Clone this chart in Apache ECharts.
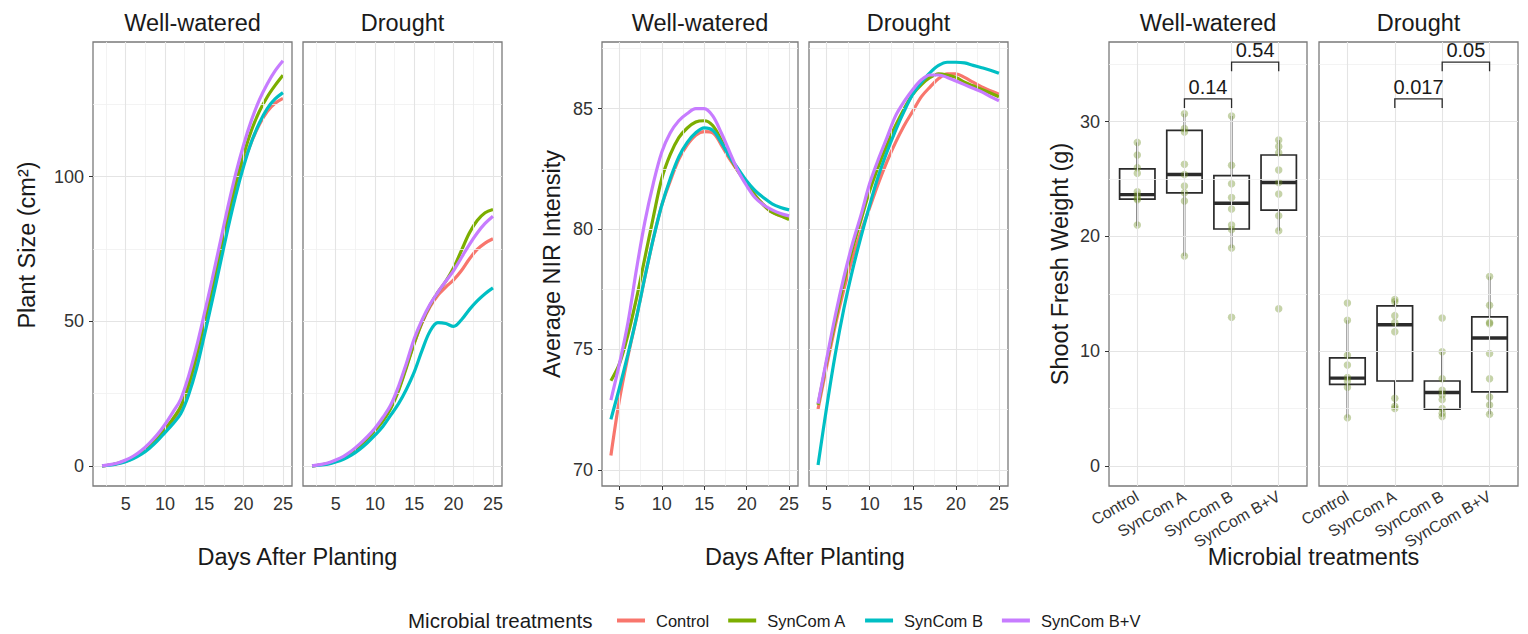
<!DOCTYPE html>
<html><head><meta charset="utf-8">
<script src="https://cdn.jsdelivr.net/npm/echarts@6/dist/echarts.min.js"></script>
<style>html,body{margin:0;padding:0;background:#fff;}#c{width:1528px;height:634px;}</style>
</head><body><div id="c"></div>
<script>
// ---------------- DATA ----------------
const treatments = ['Control', 'SynCom A', 'SynCom B', 'SynCom B+V'];
const facets = ['Well-watered', 'Drought'];

const sizeDays = [2,3,4,5,6,7,8,9,10,11,12,13,14,15,16,17,18,19,20,21,22,23,24,25];
const sizeWW_Control = [0,0.3,0.8,1.6,2.8,4.4,6.5,9,12,15.5,19.5,26.5,36,47,58.5,71,83.5,95,104.5,112,118,122.5,125.3,127];
const sizeWW_SynComA = [0,0.3,0.9,1.8,3.1,4.8,7,9.6,12.7,16.2,20.5,28,38,49.5,61,73.5,86,97.5,107.5,116,122.5,127.5,131.5,135];
const sizeWW_SynComB = [0,0.2,0.7,1.4,2.5,4,6,8.5,11.5,14.5,18,24.5,33.5,45,57,69.5,82,93.5,103.5,112,118.5,123.5,126.8,129];
const sizeWW_SynComBV = [0,0.4,1,2,3.4,5.3,7.8,10.7,14.3,18.5,23,31,41,52.5,64.5,77,89.5,101,111,119.5,126.5,132,136.5,140];
const sizeD_Control = [0,0.3,0.8,1.7,2.9,4.6,6.8,9.3,12.3,15.8,20.2,26.5,34.5,42.5,49.5,55,59,61.8,64.3,67.5,71.5,74.8,77,78.5];
const sizeD_SynComA = [0,0.3,0.8,1.7,2.9,4.6,6.8,9.3,12.2,15.5,19.8,26,34,42.5,49.8,55.5,60,63.8,68.5,74.5,80.5,84.8,87.5,88.6];
const sizeD_SynComB = [0,0.2,0.6,1.3,2.3,3.7,5.6,7.9,10.6,13.6,17.5,21.5,26.5,32.5,40,46.5,49.5,49.2,48.2,50.5,54,57,59.5,61.5];
const sizeD_SynComBV = [0,0.4,1,2,3.3,5.1,7.4,10,13,16.7,21,27.5,35.5,44,50.5,55.8,60,63.8,67.5,72,76.5,80.5,83.8,86.3];

const nirDays = [4,5,6,7,8,9,10,11,12,13,14,15,16,17,18,19,20,21,22,23,24,25];
const nirWW_Control = [70.6,72.9,74.7,76.3,78.0,79.6,81.0,82.0,82.9,83.5,83.9,84.05,84.0,83.5,82.9,82.4,81.9,81.4,81.0,80.7,80.55,80.45];
const nirWW_SynComA = [73.7,74.4,75.6,77.1,78.8,80.5,82.1,83.1,83.8,84.2,84.45,84.5,84.3,83.7,83.0,82.4,81.9,81.4,81.0,80.7,80.55,80.4];
const nirWW_SynComB = [72.1,73.4,74.8,76.3,78.0,79.6,81.0,82.1,83.0,83.6,84.0,84.2,84.1,83.6,83.0,82.5,82.0,81.6,81.3,81.05,80.9,80.8];
const nirWW_SynComBV = [72.9,74.4,76.1,78.3,80.3,81.9,83.2,84.0,84.5,84.8,85.0,85.0,84.7,84.0,83.2,82.4,81.8,81.3,81.0,80.8,80.65,80.55];
const nirD_Control = [72.53,74.3,76.0,77.5,78.8,79.9,80.9,81.9,82.8,83.6,84.3,84.9,85.5,85.9,86.25,86.45,86.45,86.3,86.1,85.9,85.75,85.6];
const nirD_SynComA = [72.7,74.5,76.2,77.8,79.2,80.4,81.6,82.6,83.5,84.3,85.0,85.6,86.0,86.3,86.45,86.4,86.3,86.1,85.95,85.8,85.65,85.5];
const nirD_SynComB = [70.2,72.6,74.8,76.7,78.3,79.7,81.0,82.2,83.2,84.1,84.9,85.6,86.1,86.5,86.8,86.93,86.93,86.9,86.8,86.7,86.6,86.47];
const nirD_SynComBV = [72.75,74.6,76.4,78.0,79.4,80.6,81.9,82.9,83.8,84.7,85.3,85.8,86.2,86.4,86.4,86.3,86.15,86.0,85.85,85.7,85.5,85.33];

// box stats: [lower whisker, Q1, median, Q3, upper whisker]
const boxWW_Control = [20.9, 23.25, 23.65, 25.9, 28.2];
const boxWW_SynComA = [18.3, 23.8, 25.4, 29.25, 30.7];
const boxWW_SynComB = [19.0, 20.65, 22.9, 25.3, 30.5];
const boxWW_SynComBV = [20.5, 22.3, 24.7, 27.1, 28.4];
const boxD_Control = [4.2, 7.1, 7.65, 9.42, 12.7];
const boxD_SynComA = [5.0, 7.4, 12.3, 13.95, 14.4];
const boxD_SynComB = [4.3, 4.95, 6.4, 7.4, 9.95];
const boxD_SynComBV = [4.5, 6.45, 11.15, 13.0, 16.5];

const ptsWW_Control = [28.2, 27.1, 26.0, 25.5, 23.9, 23.6, 23.3, 23.2, 21.0];
const ptsWW_SynComA = [30.7, 29.4, 29.1, 26.3, 25.4, 24.4, 23.8, 23.1, 18.3];
const ptsWW_SynComB = [30.5, 26.2, 24.6, 23.4, 22.4, 21.0, 20.6, 19.0, 12.95];
const ptsWW_SynComBV = [28.4, 27.85, 27.3, 25.8, 24.7, 23.7, 21.8, 20.5, 13.7];
const ptsD_Control = [14.2, 12.7, 9.65, 8.8, 7.7, 7.4, 6.85, 4.2];
const ptsD_SynComA = [14.5, 14.3, 13.1, 12.5, 11.7, 5.9, 5.2, 5.0];
const ptsD_SynComB = [12.9, 9.95, 7.6, 6.6, 6.2, 5.8, 5.0, 4.6, 4.3];
const ptsD_SynComBV = [16.5, 14.0, 12.5, 12.4, 9.8, 7.6, 6.0, 5.3, 4.5];

const bracketFrom = [2, 3];
const bracketTo = [3, 4];
const bracketY = [32.0, 35.2];
const bracketLabelsWW = ['0.14', '0.54'];
const bracketLabelsD = ['0.017', '0.05'];

const dayTicks = [5, 10, 15, 20, 25];
const dayMinor = [2.5, 7.5, 12.5, 17.5, 22.5];
const sizeTicks = [0, 50, 100];
const sizeMinor = [25, 75, 125];
const nirTicks = [70, 75, 80, 85];
const nirMinor = [72.5, 77.5, 82.5, 87.5];
const weightTicks = [0, 10, 20, 30];
const weightMinor = [5, 15, 25, 35];
const catTicks = [1, 2, 3, 4];

// ---------------- STYLE / LAYOUT ----------------
const colors = ['#F8766D', '#7CAE00', '#00BFC4', '#C77CFF'];
const FONT = 'Liberation Sans, Arial, Helvetica, sans-serif';
const TXT = '#1a1a1a';
const TICK = '#333333';
const MAJ = '#e4e4e4';
const MIN = '#f0f0f0';

const grids = [
  {left: 93, top: 42, width: 199, height: 444},
  {left: 303, top: 42, width: 199, height: 444},
  {left: 602, top: 42, width: 196, height: 444},
  {left: 809, top: 42, width: 199, height: 444},
  {left: 1109, top: 42, width: 198, height: 444},
  {left: 1319, top: 42, width: 199, height: 444}
].map(g => Object.assign({show: true, backgroundColor: '#fff', borderColor: '#7a7a7a', borderWidth: 1.3, containLabel: false}, g));

function xAxis(i, min, max, ticks, extra) {
  return Object.assign({
    type: 'value', gridIndex: i, min: min, max: max,
    axisLine: {show: false}, splitLine: {show: false},
    axisTick: {show: true, customValues: ticks, length: 4, lineStyle: {color: TICK, width: 1}},
    axisLabel: {customValues: ticks, margin: 9, color: TICK, fontSize: 18, fontFamily: FONT}
  }, extra || {});
}
function yAxis(i, min, max, ticks, show) {
  return {
    type: 'value', gridIndex: i, min: min, max: max,
    axisLine: {show: false}, splitLine: {show: false},
    axisTick: {show: show, customValues: ticks, length: 4, lineStyle: {color: TICK, width: 1}},
    axisLabel: {show: show, customValues: ticks, margin: 9, color: TICK, fontSize: 18, fontFamily: FONT}
  };
}
const catLabel = {customValues: catTicks, rotate: 30, margin: 9, color: TICK, fontSize: 16, fontFamily: FONT, formatter: v => treatments[Math.round(v) - 1]};

const xAxes = [
  xAxis(0, 0.85, 26.15, dayTicks), xAxis(1, 0.85, 26.15, dayTicks),
  xAxis(2, 2.95, 26.05, dayTicks), xAxis(3, 2.95, 26.05, dayTicks),
  xAxis(4, 0.4, 4.6, catTicks, {axisLabel: catLabel}),
  xAxis(5, 0.4, 4.6, catTicks, {axisLabel: catLabel})
];
const yAxes = [
  yAxis(0, -6.97, 146.5, sizeTicks, true), yAxis(1, -6.97, 146.5, sizeTicks, false),
  yAxis(2, 69.33, 87.77, nirTicks, true), yAxis(3, 69.33, 87.77, nirTicks, false),
  yAxis(4, -1.75, 36.95, weightTicks, true), yAxis(5, -1.75, 36.95, weightTicks, false)
];

function gridLines(i, xMaj, xMin, yMaj, yMin) {
  const d = [];
  xMin.forEach(v => d.push({xAxis: v, lineStyle: {color: MIN, width: 0.8, type: 'solid'}}));
  yMin.forEach(v => d.push({yAxis: v, lineStyle: {color: MIN, width: 0.8, type: 'solid'}}));
  xMaj.forEach(v => d.push({xAxis: v, lineStyle: {color: MAJ, width: 1.1, type: 'solid'}}));
  yMaj.forEach(v => d.push({yAxis: v, lineStyle: {color: MAJ, width: 1.1, type: 'solid'}}));
  return {
    type: 'line', xAxisIndex: i, yAxisIndex: i, data: [], z: 1, silent: true,
    markLine: {silent: true, symbol: ['none', 'none'], animation: false, label: {show: false}, emphasis: {disabled: true}, data: d}
  };
}

const series = [];
series.push(gridLines(0, dayTicks, dayMinor, sizeTicks, sizeMinor));
series.push(gridLines(1, dayTicks, dayMinor, sizeTicks, sizeMinor));
series.push(gridLines(2, dayTicks, dayMinor, nirTicks, nirMinor));
series.push(gridLines(3, dayTicks, dayMinor, nirTicks, nirMinor));
series.push(gridLines(4, catTicks, [], weightTicks, weightMinor));
series.push(gridLines(5, catTicks, [], weightTicks, weightMinor));

function curve(i, name, k, days, vals) {
  return {
    type: 'line', name: name, xAxisIndex: i, yAxisIndex: i, z: 3 + k,
    data: days.map((d, j) => [d, vals[j]]), smooth: 0.35, showSymbol: false, symbol: 'none',
    lineStyle: {color: colors[k], width: 3.2}, itemStyle: {color: colors[k]}, emphasis: {disabled: true}
  };
}
const sizeWW = [sizeWW_Control, sizeWW_SynComA, sizeWW_SynComB, sizeWW_SynComBV];
const sizeD = [sizeD_Control, sizeD_SynComA, sizeD_SynComB, sizeD_SynComBV];
const nirWW = [nirWW_Control, nirWW_SynComA, nirWW_SynComB, nirWW_SynComBV];
const nirD = [nirD_Control, nirD_SynComA, nirD_SynComB, nirD_SynComBV];
treatments.forEach((t, k) => {
  series.push(curve(0, t, k, sizeDays, sizeWW[k]));
  series.push(curve(1, t, k, sizeDays, sizeD[k]));
  series.push(curve(2, t, k, nirDays, nirWW[k]));
  series.push(curve(3, t, k, nirDays, nirD[k]));
});

function renderBox(params, api) {
  const x = api.value(0);
  const lo = api.coord([x, api.value(1)]);
  const q1 = api.coord([x, api.value(2)]);
  const md = api.coord([x, api.value(3)]);
  const q3 = api.coord([x, api.value(4)]);
  const hi = api.coord([x, api.value(5)]);
  const half = api.size([0.375, 0])[0];
  const cx = lo[0];
  const st = {stroke: '#2b2b2b', lineWidth: 1.7};
  return {type: 'group', children: [
    {type: 'line', shape: {x1: cx, y1: hi[1], x2: cx, y2: q3[1]}, style: st},
    {type: 'line', shape: {x1: cx, y1: q1[1], x2: cx, y2: lo[1]}, style: st},
    {type: 'rect', shape: {x: cx - half, y: q3[1], width: 2 * half, height: q1[1] - q3[1]}, style: {fill: '#fff', stroke: '#2b2b2b', lineWidth: 1.7}},
    {type: 'line', shape: {x1: cx - half, y1: md[1], x2: cx + half, y2: md[1]}, style: {stroke: '#2b2b2b', lineWidth: 3.4}}
  ]};
}
const boxWW = [boxWW_Control, boxWW_SynComA, boxWW_SynComB, boxWW_SynComBV];
const boxD = [boxD_Control, boxD_SynComA, boxD_SynComB, boxD_SynComBV];
const ptsWW = [ptsWW_Control, ptsWW_SynComA, ptsWW_SynComB, ptsWW_SynComBV];
const ptsD = [ptsD_Control, ptsD_SynComA, ptsD_SynComB, ptsD_SynComBV];

[[4, boxWW, ptsWW, bracketLabelsWW], [5, boxD, ptsD, bracketLabelsD]].forEach(([gi, boxes, pts, labels]) => {
  series.push({
    type: 'custom', xAxisIndex: gi, yAxisIndex: gi, z: 3, silent: true,
    renderItem: renderBox, encode: {x: 0, y: [1, 2, 3, 4, 5]},
    data: boxes.map((b, k) => [k + 1].concat(b))
  });
  const pd = [];
  pts.forEach((arr, k) => arr.forEach(v => pd.push([k + 1, v])));
  series.push({
    type: 'scatter', xAxisIndex: gi, yAxisIndex: gi, z: 4, silent: true,
    data: pd, symbolSize: 7.5, itemStyle: {color: 'rgba(112,145,40,0.5)'}
  });
  series.push({
    type: 'custom', xAxisIndex: gi, yAxisIndex: gi, z: 5, silent: true,
    encode: {x: [0, 1], y: 2},
    data: bracketFrom.map((f, j) => [f, bracketTo[j], bracketY[j]]),
    renderItem: function (params, api) {
      const a = api.coord([api.value(0), api.value(2)]);
      const b = api.coord([api.value(1), api.value(2)]);
      const drop = api.size([0, 0.8])[1];
      const lab = labels[params.dataIndex];
      return {type: 'group', children: [
        {type: 'polyline', shape: {points: [[a[0], a[1] + drop], a, b, [b[0], b[1] + drop]]}, style: {stroke: '#2b2b2b', lineWidth: 1.3, fill: null}},
        {type: 'text', x: (a[0] + b[0]) / 2, y: a[1] - 2, style: {text: lab, fontSize: 20, fontFamily: FONT, fill: TXT, align: 'center', verticalAlign: 'bottom', textAlign: 'center', textVerticalAlign: 'bottom'}}
      ]};
    }
  });
});

function label(text, x, y, size, rot, align) {
  return {type: 'text', x: x, y: y, rotation: rot || 0, silent: true,
    style: {text: text, fontSize: size, fontFamily: FONT, fill: TXT,
      align: align || 'center', verticalAlign: 'middle', textAlign: align || 'center', textVerticalAlign: 'middle'}};
}
const graphics = [];
grids.forEach((g, i) => graphics.push(label(facets[i % 2], g.left + g.width / 2, 23, 23.5)));
graphics.push(label('Days After Planting', 297.5, 557, 23.5));
graphics.push(label('Days After Planting', 805, 557, 23.5));
graphics.push(label('Microbial treatments', 1313.5, 557, 23.5));
graphics.push(label('Plant Size (cm²)', 27, 245, 23.5, Math.PI / 2));
graphics.push(label('Average NIR Intensity', 552, 264, 23.5, Math.PI / 2));
graphics.push(label('Shoot Fresh Weight (g)', 1060, 264, 23.5, Math.PI / 2));
graphics.push(label('Microbial treatments', 408, 620, 20.5, 0, 'left'));

const chart = echarts.init(document.getElementById('c'), null, {renderer: 'svg'});
chart.setOption({
  animation: false,
  backgroundColor: '#fff',
  grid: grids,
  xAxis: xAxes,
  yAxis: yAxes,
  legend: {
    data: treatments, left: 612, top: 607, icon: 'rect', itemWidth: 28, itemHeight: 4, itemGap: 19,
    textStyle: {fontSize: 16.5, fontFamily: FONT, color: TXT, padding: [0, 0, 0, 6]},
    selectedMode: false
  },
  graphic: graphics,
  series: series
});
</script>
</body></html>
